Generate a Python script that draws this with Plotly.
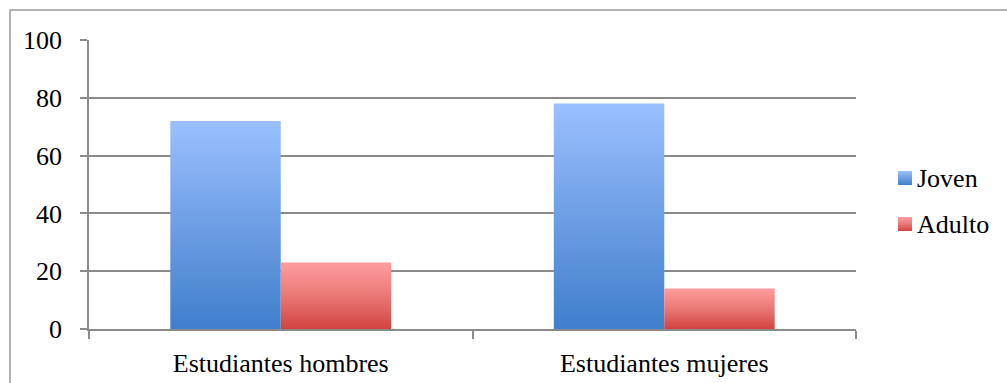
import plotly.graph_objects as go

# ---- data ----
categories = ["Estudiantes hombres", "Estudiantes mujeres"]
series_names = ["Joven", "Adulto"]
joven = [72, 78]
adulto = [23, 14]
y_tick_values = [0, 20, 40, 60, 80, 100]

# ---- geometry (pixels of a 1007x383 canvas) ----
W, H = 1007, 383
PL, PR, PT, PB = 89, 856, 40, 329  # plot area edges


def px_x(p):
    return p / W


def px_y(p):
    return (H - p) / H


FONT = "Times New Roman"
FS = 26
GRID = "#8a8a8a"
BAR_W = 0.288

series = [
    dict(name=series_names[0], values=joven, offset=-BAR_W,
         scale=[[0, "#3f7fcc"], [0.45, "#6a9be2"], [1, "#9ac0ff"]]),
    dict(name=series_names[1], values=adulto, offset=0.0,
         scale=[[0, "#d24340"], [0.55, "#ec7d7b"], [1, "#ff9c9c"]]),
]

fig = go.Figure()

# bars drawn as gradient-filled rectangles on a linear x axis (category index)
for s in series:
    for i, v in enumerate(s["values"]):
        x0 = i + s["offset"]
        x1 = x0 + BAR_W
        fig.add_trace(go.Scatter(
            x=[x0, x1, x1, x0, x0],
            y=[0, 0, v, v, 0],
            mode="lines",
            line=dict(width=0),
            fill="toself",
            fillgradient=dict(type="vertical", colorscale=s["scale"], start=0, stop=v),
            name=s["name"],
            showlegend=False,
            hoverinfo="skip",
        ))

# legend swatches on a small auxiliary axis pair (pixel-like units)
SW_TOP, SW_STEP, SW_SIZE = 171, 46, 14
for k, s in enumerate(series):
    top = SW_TOP + k * SW_STEP
    bot = top + SW_SIZE
    fig.add_trace(go.Scatter(
        x=[0, 1, 1, 0, 0],
        y=[bot, bot, top, top, bot],
        xaxis="x2", yaxis="y2",
        mode="lines",
        line=dict(width=0),
        fill="toself",
        fillgradient=dict(type="vertical", colorscale=s["scale"], start=bot, stop=top),
        showlegend=False,
        hoverinfo="skip",
    ))
    fig.add_annotation(
        x=px_x(915), y=px_y(top + SW_SIZE / 2 + 0.5), xref="paper", yref="paper",
        text=s["name"], showarrow=False, xanchor="left", yanchor="middle",
        font=dict(family=FONT, size=FS, color="#000000"),
    )

fig.update_layout(
    width=W, height=H,
    margin=dict(l=0, r=0, t=0, b=0),
    paper_bgcolor="white",
    plot_bgcolor="white",
    showlegend=False,
    font=dict(family=FONT, size=FS, color="#000000"),
    xaxis=dict(
        domain=[px_x(PL), px_x(PR)],
        range=[-0.5, 1.5],
        tickmode="array",
        tickvals=list(range(len(categories))),
        ticktext=categories,
        ticks="",
        showgrid=False,
        zeroline=False,
        showline=True, linecolor=GRID, linewidth=1.5,
        ticklabelstandoff=10,
        tickfont=dict(family=FONT, size=FS, color="#000000"),
        minor=dict(
            tickmode="array",
            tickvals=[-0.5 + j for j in range(len(categories) + 1)],
            ticks="outside", ticklen=8, tickwidth=1.5, tickcolor=GRID,
            showgrid=False,
        ),
        automargin=False,
        fixedrange=True,
    ),
    yaxis=dict(
        domain=[px_y(PB), px_y(PT)],
        range=[0, 100],
        tickmode="array",
        tickvals=y_tick_values,
        ticks="outside", ticklen=7, tickwidth=1.5, tickcolor=GRID,
        showgrid=True, gridcolor=GRID, gridwidth=1.5,
        zeroline=False,
        showline=True, linecolor=GRID, linewidth=1.5,
        ticklabelstandoff=13,
        tickfont=dict(family=FONT, size=FS, color="#000000"),
        automargin=False,
        fixedrange=True,
    ),
    xaxis2=dict(domain=[px_x(898), px_x(912)], range=[0, 1], anchor="y2",
                visible=False, fixedrange=True),
    yaxis2=dict(domain=[px_y(240), px_y(160)], range=[240, 160], anchor="x2",
                visible=False, fixedrange=True),
    shapes=[
        # outer chart frame
        dict(type="rect", xref="paper", yref="paper",
             x0=px_x(10), x1=px_x(1012), y0=px_y(392), y1=px_y(10),
             line=dict(color="#9a9a9a", width=1.5), fillcolor="rgba(0,0,0,0)",
             layer="below"),
    ],
)

fig.write_html("out.html")
